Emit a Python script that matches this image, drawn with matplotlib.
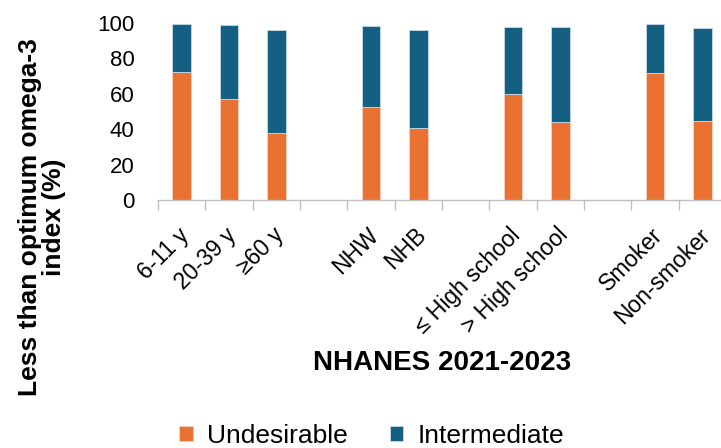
import matplotlib
matplotlib.use('Agg')
import matplotlib.pyplot as plt
import matplotlib.transforms as mtransforms
import numpy as np

# categories (empty strings are the gaps between groups)
labels = ['6-11 y', '20-39 y', '≥60 y', '',
          'NHW', 'NHB', '',
          '≤ High school', '> High school', '',
          'Smoker', 'Non-smoker']
undesirable = [72.5, 57.2, 37.9, np.nan, 52.3, 40.9, np.nan, 59.8, 43.8, np.nan, 71.7, 44.7]
intermediate = [27.1, 41.6, 58.3, np.nan, 46.0, 55.3, np.nan, 38.1, 53.9, np.nan, 27.7, 52.5]

orange = '#E97132'
blue = '#156082'

plt.rcParams['font.family'] = ['Liberation Sans', 'DejaVu Sans']

W, H = 721, 448
fig = plt.figure(figsize=(W / 100, H / 100), dpi=100)
# axes: x from 158px to 726px (runs past right edge like the original), y from 23px to 200px
ax = fig.add_axes([158 / W, 1 - 200 / H, 568 / W, 177 / H])

x = np.arange(len(labels))
u = np.array(undesirable)
m = np.array(intermediate)
ax.bar(x, u, width=0.4, color=orange, edgecolor='#f5d3c0', linewidth=0.6, label='Undesirable')
ax.bar(x, m, width=0.4, bottom=u, color=blue, edgecolor='#c9dbe6', linewidth=0.6, label='Intermediate')

ax.set_xlim(-0.5, len(labels) - 0.5)
ax.set_ylim(0, 100)
ax.set_yticks([0, 20, 40, 60, 80, 100])
ax.tick_params(axis='y', length=0, pad=17, labelsize=16)

ax.set_xticks(x)
ax.set_xticklabels(labels, rotation=45, ha='right', va='top', rotation_mode='anchor', fontsize=16.5)
ax.set_xticks(np.arange(-0.5, len(labels)), minor=True)
ax.tick_params(axis='x', which='major', length=0, pad=17)
ax.tick_params(axis='x', which='minor', length=7, width=1, color='#bfbfbf', direction='out')
shift = mtransforms.ScaledTranslation(-4 / 100, 0, fig.dpi_scale_trans)
for t in ax.get_xticklabels():
    t.set_transform(t.get_transform() + shift)

for s in ['top', 'right', 'left']:
    ax.spines[s].set_visible(False)
ax.spines['bottom'].set_color('#bfbfbf')
ax.spines['bottom'].set_linewidth(1)

fig.text(442 / W, 1 - 363 / H, 'NHANES 2021-2023', ha='center', va='center',
         fontsize=20, fontweight='bold')
fig.text(42 / W, 1 - 217 / H, 'Less than optimum omega-3\nindex (%)', rotation=90,
         ha='center', va='center', multialignment='center', fontsize=19, fontweight='bold',
         linespacing=1.0)

fig.legend(loc='center', bbox_to_anchor=(372 / W, 1 - 436 / H), ncol=2, frameon=False,
           fontsize=19, handlelength=0.5, handleheight=0.5, handletextpad=0.55,
           columnspacing=1.6)

fig.savefig('out.png', dpi=100)
